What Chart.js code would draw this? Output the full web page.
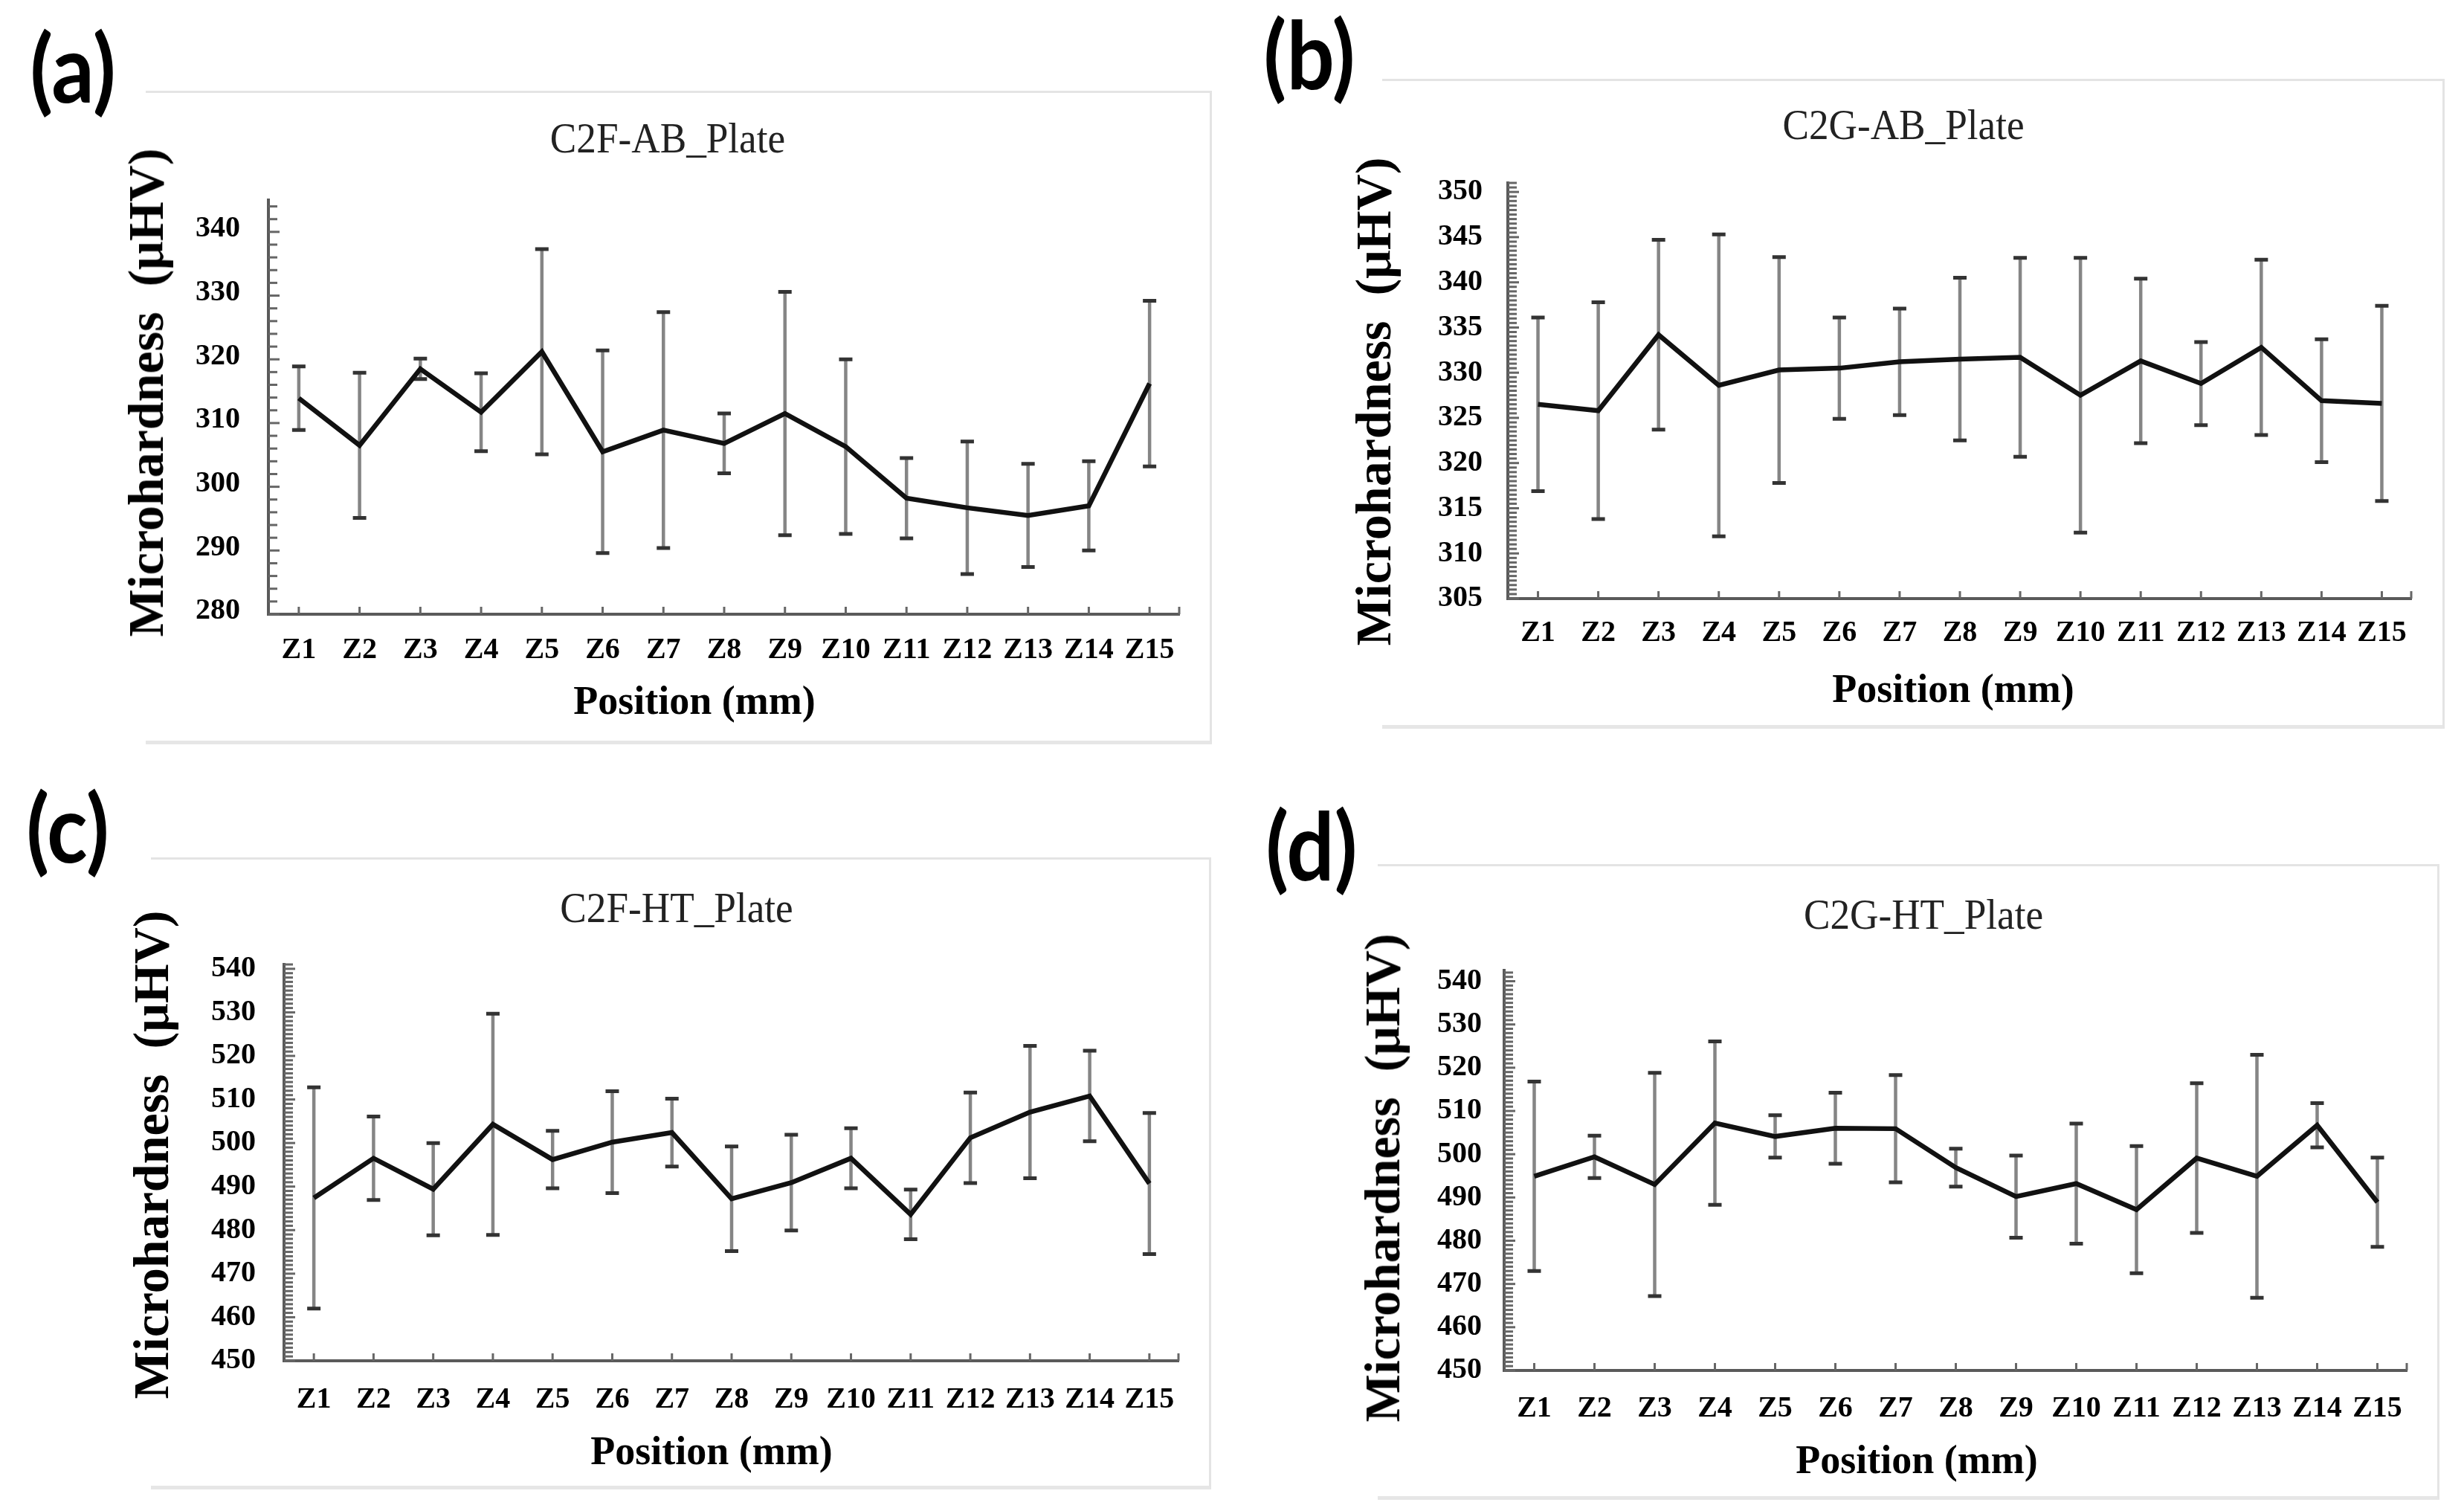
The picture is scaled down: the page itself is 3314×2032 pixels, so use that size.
<!DOCTYPE html>
<html>
<head>
<meta charset="utf-8">
<script src="https://cdn.jsdelivr.net/npm/chart.js@4.4.1/dist/chart.umd.min.js"></script>
<style>
html,body{margin:0;padding:0;background:#fff;}
#page{position:relative;width:3314px;height:2032px;overflow:hidden;background:#fff;}
.frame{position:absolute;box-sizing:border-box;border-top:3px solid #e4e4e4;border-right:3px solid #e4e4e4;border-bottom:5px solid #e6e6e6;}
.cv{position:absolute;}
.txt{position:absolute;white-space:nowrap;transform:translate(-50%,-50%);line-height:1;color:#000;}
.plabel{font-family:Lato,'Open Sans',sans-serif;font-weight:700;font-size:126px;transform:translate(-50%,-50%) scaleX(0.9);}
.ptitle{font-family:'Liberation Serif','Times New Roman',serif;font-size:56px;color:#222;transform:translate(-50%,-50%) scaleX(0.95);}
.ytitle{font-family:'Liberation Serif','Times New Roman',serif;font-weight:700;font-size:68px;transform:translate(-50%,-50%) rotate(-90deg);}
.xtitle{font-family:'Liberation Serif','Times New Roman',serif;font-weight:700;font-size:54px;}
</style>
</head>
<body>
<div id="page"></div>
<script>
// ---------------- data ----------------
const categories = ['Z1','Z2','Z3','Z4','Z5','Z6','Z7','Z8','Z9','Z10','Z11','Z12','Z13','Z14','Z15'];

const meanA = [313.9, 306.5, 318.5, 311.7, 321.2, 305.5, 308.9, 306.8, 311.5, 306.3, 298.2, 296.7, 295.5, 297.0, 316.2];
const sdA   = [5.0, 11.4, 1.6, 6.1, 16.1, 15.9, 18.5, 4.7, 19.1, 13.7, 6.3, 10.4, 8.1, 7.0, 13.0];

const meanB = [326.5, 325.8, 334.2, 328.6, 330.3, 330.5, 331.2, 331.5, 331.7, 327.5, 331.3, 328.8, 332.8, 326.9, 326.6];
const sdB   = [9.6, 12.0, 10.5, 16.7, 12.5, 5.6, 5.9, 9.0, 11.0, 15.2, 9.1, 4.6, 9.7, 6.8, 10.8];

const meanC = [487.4, 496.5, 489.4, 504.3, 496.2, 500.2, 502.4, 487.2, 490.9, 496.5, 483.6, 501.2, 507.1, 510.8, 490.7];
const sdC   = [25.4, 9.6, 10.6, 25.4, 6.6, 11.7, 7.8, 12.0, 11.0, 6.9, 5.7, 10.4, 15.2, 10.4, 16.2];

const meanD = [494.9, 499.4, 493.0, 507.2, 504.1, 506.0, 505.9, 496.9, 490.2, 493.2, 487.2, 499.1, 494.9, 506.7, 488.9];
const sdD   = [21.9, 4.9, 25.8, 18.9, 4.9, 8.2, 12.4, 4.4, 9.5, 13.9, 14.7, 17.3, 28.1, 5.1, 10.3];

const yTicksA = [280, 290, 300, 310, 320, 330, 340];
const yTicksB = [305, 310, 315, 320, 325, 330, 335, 340, 345, 350];
const yTicksC = [450, 460, 470, 480, 490, 500, 510, 520, 530, 540];
const yTicksD = [450, 460, 470, 480, 490, 500, 510, 520, 530, 540];

const panelLabels = ['(a)', '(b)', '(c)', '(d)'];
const panelTitles = ['C2F-AB_Plate', 'C2G-AB_Plate', 'C2F-HT_Plate', 'C2G-HT_Plate'];
const yTitle = 'Microhardness\u00a0\u00a0(\u03bcHV)';
const xTitle = 'Position (mm)';

// ---------------- layout ----------------
const panels = [
  {label: panelLabels[0], title: panelTitles[0], mean: meanA, sd: sdA, ticks: yTicksA, min: 280, max: 345, minor: 2,
   area: {L: 361, R: 1587, T: 269, B: 826}, yPad: 38, xPad: 25, lblOff: -4,
   frame: {x: 196, y: 122, w: 1434, h: 879}, lab: {x: 98, y: 90}, tit: {x: 898, y: 186}, yt: {x: 196, y: 528}, xt: {x: 934, y: 942}},
  {label: panelLabels[1], title: panelTitles[1], mean: meanB, sd: sdB, ticks: yTicksB, min: 305, max: 351, minor: 0.5,
   area: {L: 2028, R: 3244, T: 246, B: 805}, yPad: 34, xPad: 23, lblOff: 0,
   frame: {x: 1859, y: 106, w: 1429, h: 874}, lab: {x: 1761, y: 72}, tit: {x: 2560, y: 168}, yt: {x: 1847, y: 540}, xt: {x: 2627, y: 926}},
  {label: panelLabels[2], title: panelTitles[2], mean: meanC, sd: sdC, ticks: yTicksC, min: 450, max: 541, minor: 1,
   area: {L: 382, R: 1586, T: 1297, B: 1830}, yPad: 38, xPad: 29, lblOff: 0,
   frame: {x: 203, y: 1153, w: 1426, h: 850}, lab: {x: 91, y: 1112}, tit: {x: 910, y: 1221}, yt: {x: 203, y: 1553}, xt: {x: 957, y: 1951}},
  {label: panelLabels[3], title: panelTitles[3], mean: meanD, sd: sdD, ticks: yTicksD, min: 450, max: 542.5, minor: 1,
   area: {L: 2023, R: 3238, T: 1305, B: 1843}, yPad: 30, xPad: 28, lblOff: 0,
   frame: {x: 1853, y: 1162, w: 1428, h: 855}, lab: {x: 1764, y: 1136}, tit: {x: 2587, y: 1230}, yt: {x: 1859, y: 1584}, xt: {x: 2578, y: 1963}}
];

const Y_W = 130, X_H = 90, PAD_T = 75, PAD_R = 40;
const page = document.getElementById('page');

function addText(cls, text, x, y) {
  const d = document.createElement('div');
  d.className = 'txt ' + cls;
  d.textContent = text;
  d.style.left = x + 'px';
  d.style.top = y + 'px';
  page.appendChild(d);
}

// plugin: error bars + inside tick marks, drawn via the chart's scales
const decorations = {
  id: 'decorations',
  beforeDatasetsDraw(chart) {
    const {ctx, chartArea, scales: {x, y}} = chart;
    const ds = chart.data.datasets[0];
    const cfg = chart.options.plugins.decorations;
    ctx.save();
    ctx.strokeStyle = '#666';
    ctx.lineWidth = 3;
    const n = Math.round((y.max - y.min) / cfg.minor);
    for (let k = 0; k <= n; k++) {
      const v = y.min + k * cfg.minor;
      if (v > y.max + 1e-9) break;
      const py = y.getPixelForValue(v);
      const major = cfg.ticks.includes(Math.round(v * 100) / 100);
      ctx.beginPath();
      ctx.moveTo(chartArea.left, py);
      ctx.lineTo(chartArea.left + (major ? 15 : 12), py);
      ctx.stroke();
    }
    for (let i = 0; i < categories.length; i++) {
      const px = x.getPixelForValue(i);
      ctx.beginPath();
      ctx.moveTo(px, chartArea.bottom);
      ctx.lineTo(px, chartArea.bottom - 10);
      ctx.stroke();
    }
    ctx.beginPath();
    ctx.moveTo(chartArea.right - 1, chartArea.bottom);
    ctx.lineTo(chartArea.right - 1, chartArea.bottom - 10);
    ctx.stroke();
    ds.data.forEach((m, i) => {
      const e = ds.errors[i];
      const px = x.getPixelForValue(i);
      const yt = y.getPixelForValue(m + e);
      const yb = y.getPixelForValue(m - e);
      ctx.strokeStyle = '#858585';
      ctx.lineWidth = 4.5;
      ctx.beginPath();
      ctx.moveTo(px, yt);
      ctx.lineTo(px, yb);
      ctx.stroke();
      ctx.strokeStyle = '#333';
      ctx.lineWidth = 5;
      ctx.beginPath();
      ctx.moveTo(px - 9, yt); ctx.lineTo(px + 9, yt);
      ctx.moveTo(px - 9, yb); ctx.lineTo(px + 9, yb);
      ctx.stroke();
    });
    ctx.restore();
  }
};

panels.forEach(p => {
  const f = document.createElement('div');
  f.className = 'frame';
  f.style.left = p.frame.x + 'px';
  f.style.top = p.frame.y + 'px';
  f.style.width = p.frame.w + 'px';
  f.style.height = p.frame.h + 'px';
  page.appendChild(f);

  const a = p.area;
  const cw = (a.R - a.L) + Y_W + PAD_R;
  const ch = (a.B - a.T) + PAD_T + X_H;
  const c = document.createElement('canvas');
  c.className = 'cv';
  c.width = cw; c.height = ch;
  c.style.width = cw + 'px';
  c.style.height = ch + 'px';
  c.style.left = (a.L - Y_W) + 'px';
  c.style.top = (a.T - PAD_T) + 'px';
  page.appendChild(c);

  const tickFont = {family: "'Liberation Serif','Times New Roman',serif", size: 40, weight: 'bold', lineHeight: 1.2};

  new Chart(c, {
    type: 'line',
    data: {
      labels: categories,
      datasets: [{
        data: p.mean,
        errors: p.sd,
        borderColor: '#111',
        borderWidth: 6.5,
        pointRadius: 0,
        pointHoverRadius: 0,
        tension: 0,
        fill: false,
        borderJoinStyle: 'miter'
      }]
    },
    options: {
      responsive: false,
      animation: false,
      events: [],
      layout: {padding: {left: 0, top: PAD_T, right: PAD_R, bottom: 0}},
      plugins: {
        legend: {display: false},
        tooltip: {enabled: false},
        title: {display: false},
        decorations: {minor: p.minor, ticks: p.ticks}
      },
      scales: {
        x: {
          type: 'category',
          offset: true,
          grid: {display: false, drawTicks: false, lineWidth: 0},
          border: {display: true, color: '#5a5a5a', width: 4},
          ticks: {color: '#000', font: tickFont, padding: p.xPad, autoSkip: false, maxRotation: 0, minRotation: 0},
          afterFit: s => { s.height = X_H; }
        },
        y: {
          type: 'linear',
          min: p.min,
          max: p.max,
          grid: {display: false, drawTicks: false, lineWidth: 0},
          border: {display: true, color: '#5a5a5a', width: 4},
          ticks: {color: '#000', font: tickFont, padding: p.yPad, labelOffset: p.lblOff, callback: v => String(v)},
          afterBuildTicks: s => { s.ticks = p.ticks.map(v => ({value: v})); },
          afterFit: s => { s.width = Y_W; }
        }
      }
    },
    plugins: [decorations]
  });

  addText('plabel', p.label, p.lab.x, p.lab.y);
  addText('ptitle', p.title, p.tit.x, p.tit.y);
  addText('ytitle', yTitle, p.yt.x, p.yt.y);
  addText('xtitle', xTitle, p.xt.x, p.xt.y);
});
</script>
</body>
</html>
